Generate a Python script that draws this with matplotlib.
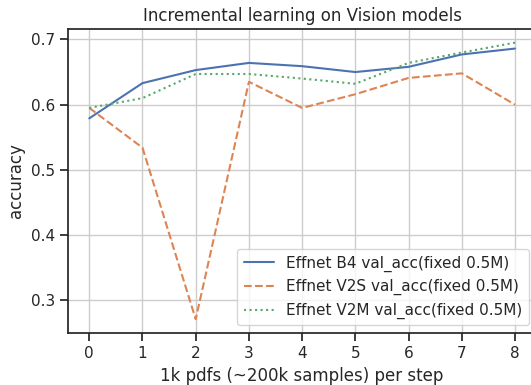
import matplotlib
matplotlib.use("Agg")
import matplotlib.pyplot as plt
import seaborn as sns

steps = list(range(9))
b4_acc = [0.579, 0.633, 0.653, 0.664, 0.659, 0.650, 0.658, 0.677, 0.686]
v2s_acc = [0.595, 0.534, 0.271, 0.635, 0.595, 0.616, 0.641, 0.648, 0.600]
v2m_acc = [0.595, 0.610, 0.647, 0.647, 0.640, 0.632, 0.664, 0.680, 0.695]

sns.set_theme(style="ticks", context="notebook")

fig = plt.figure(figsize=(5.31, 3.85), dpi=100)
ax = fig.add_axes([0.128, 0.135, 0.882, 0.79])

ax.plot(steps, b4_acc, linestyle="-", label="Effnet B4 val_acc(fixed 0.5M)")
ax.plot(steps, v2s_acc, linestyle="--", label="Effnet V2S val_acc(fixed 0.5M)")
ax.plot(steps, v2m_acc, linestyle=":", label="Effnet V2M val_acc(fixed 0.5M)")

ax.grid(True)
ax.set_xticks(steps)
ax.set_title("Incremental learning on Vision models")
ax.set_xlabel("1k pdfs (~200k samples) per step")
ax.set_ylabel("accuracy")
ax.legend(loc="lower right")

fig.savefig("out.png", dpi=100)
